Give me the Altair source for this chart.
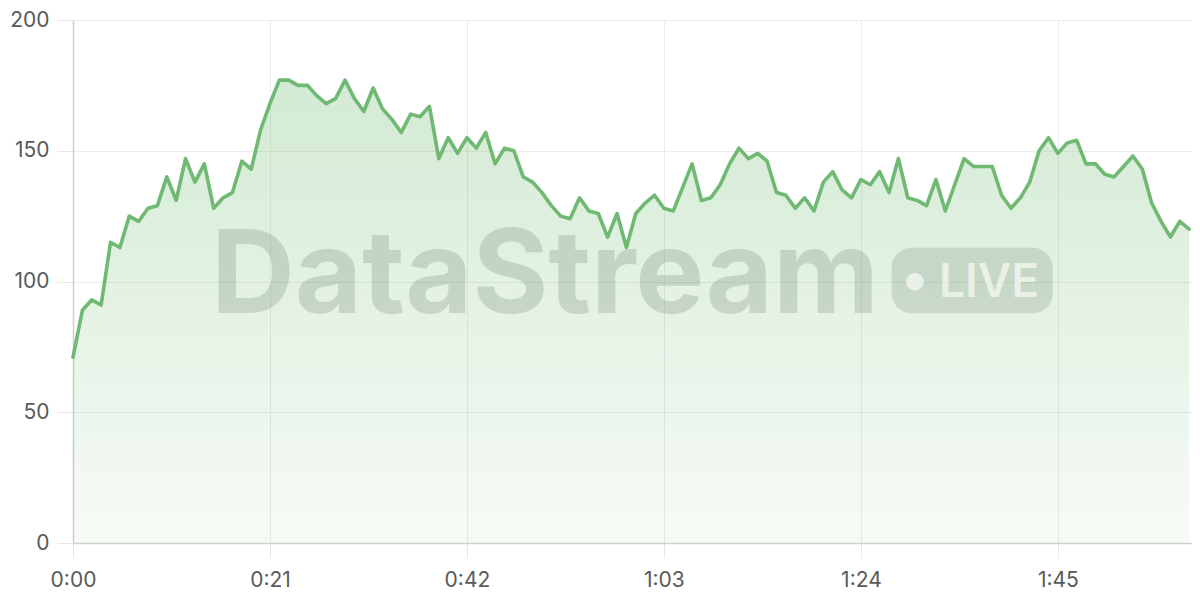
import altair as alt
import pandas as pd

seconds = list(range(120))
values = [
    71, 89, 93, 91, 115, 113, 125, 123, 128, 129,
    140, 131, 147, 138, 145, 128, 132, 134, 146, 143,
    158, 168, 177, 177, 175, 175, 171, 168, 170, 177,
    170, 165, 174, 166, 162, 157, 164, 163, 167, 147,
    155, 149, 155, 151, 157, 145, 151, 150, 140, 138,
    134, 129, 125, 124, 132, 127, 126, 117, 126, 113,
    126, 130, 133, 128, 127, 136, 145, 131, 132, 137,
    145, 151, 147, 149, 146, 134, 133, 128, 132, 127,
    138, 142, 135, 132, 139, 137, 142, 134, 147, 132,
    131, 129, 139, 127, 137, 147, 144, 144, 144, 133,
    128, 132, 138, 150, 155, 149, 153, 154, 145, 145,
    141, 140, 144, 148, 143, 130, 123, 117, 123, 120,
]
x_ticks = [0, 21, 42, 63, 84, 105]
y_ticks = [0, 50, 100, 150, 200]
brand = "DataStream"
badge = "LIVE"

df = pd.DataFrame({"t": seconds, "v": values})

GREEN = "#6fb972"
FONT = "Inter"

x_enc = alt.X(
    "t:Q",
    scale=alt.Scale(domain=[0, 119.3], nice=False, zero=False),
    axis=alt.Axis(
        values=x_ticks,
        labelExpr="floor(datum.value/60) + ':' + (datum.value%60 < 10 ? '0' : '') + (datum.value%60)",
        title=None,
        grid=True,
        gridColor="#ebebeb",
        tickColor="#e6e6e6",
        tickSize=15,
        labelPadding=11,
        labelFlush=False,
        labelOverlap=False,
        labelFontSize=21,
        labelFont=FONT,
        labelColor="#5a5a5a",
        domainColor="#cfd3cf",
        domainWidth=1.5,
    ),
)
y_enc = alt.Y(
    "v:Q",
    scale=alt.Scale(domain=[0, 200], nice=False),
    axis=alt.Axis(
        values=y_ticks,
        title=None,
        grid=True,
        gridColor="#ebebeb",
        tickColor="#e6e6e6",
        tickSize=16,
        labelPadding=8,
        labelFlush=False,
        labelOverlap=False,
        labelFontSize=21,
        labelFont=FONT,
        labelColor="#5a5a5a",
        domainColor="#d0d0d0",
        domainWidth=1.5,
    ),
)

base = alt.Chart(df)

area = base.mark_area(
    color=alt.Gradient(
        gradient="linear",
        x1=0, y1=0, x2=0, y2=1,
        stops=[
            alt.GradientStop(color="rgba(109,186,111,0.30)", offset=0),
            alt.GradientStop(color="rgba(109,186,111,0.06)", offset=1),
        ],
    ),
    interpolate="linear",
).encode(x=x_enc, y=y_enc)

line = base.mark_line(
    color=GREEN, strokeWidth=3.6, strokeJoin="round", strokeCap="round"
).encode(x="t:Q", y="v:Q")

one = pd.DataFrame({"brand": [brand], "badge": [badge]})
wm = alt.Chart(one)

wm_text = wm.mark_text(
    font=FONT, fontWeight="bold", fontSize=116, align="left", baseline="alphabetic",
    color="#5f735f", opacity=0.22,
).encode(x=alt.value(138), y=alt.value(293), text="brand:N")

wm_rect = wm.mark_rect(
    color="#5f735f", opacity=0.2, cornerRadius=20
).encode(x=alt.value(818.7), x2=alt.value(979.7), y=alt.value(227.7), y2=alt.value(293.3))

wm_dot = wm.mark_point(
    filled=True, shape="circle", size=320, color="#eef5ee", opacity=0.85
).encode(x=alt.value(842), y=alt.value(261.7))

wm_live = wm.mark_text(
    font=FONT, fontWeight=600, fontSize=46, align="left", baseline="alphabetic",
    color="#eef5ee", opacity=0.85,
).encode(x=alt.value(866), y=alt.value(276.7), text="badge:N")

chart = (
    alt.layer(area, line, wm_text, wm_rect, wm_dot, wm_live)
    .properties(
        width=1119,
        height=523,
        padding={"left": 65, "top": 12, "right": 0, "bottom": 50},
        autosize=alt.AutoSizeParams(type="none"),
    )
    .configure_view(stroke=None)
    .configure(background="white")
)

chart.save("out.html", embed_options={"renderer": "svg", "actions": False})
